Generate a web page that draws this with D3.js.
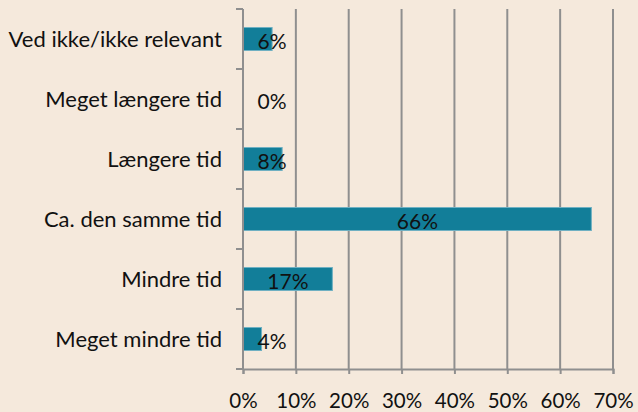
<!DOCTYPE html>
<html>
<head>
<meta charset="utf-8">
<script src="https://cdn.jsdelivr.net/npm/d3@7"></script>
<style>
  body { margin: 0; background: #f5e9dc; }
  svg { display: block; }
  text { font-family: Lato, "Open Sans", sans-serif; fill: #111; }
</style>
</head>
<body>
<div id="chart"></div>
<script>
// answers, top to bottom as drawn
const categories = ["Ved ikke/ikke relevant", "Meget længere tid", "Længere tid",
  "Ca. den samme tid", "Mindre tid", "Meget mindre tid"];
const values = [5.6, 0, 7.5, 66, 17, 3.6];
const labels = ["6%", "0%", "8%", "66%", "17%", "4%"];
const ticks = [0, 10, 20, 30, 40, 50, 60, 70];

const W = 638, H = 412;
const margin = {top: 9, right: 25, bottom: 43, left: 243};
const width = W - margin.left - margin.right,
      height = H - margin.top - margin.bottom;

let svg = d3.select("#chart").append("svg")
  .attr("width", W)
  .attr("height", H);

svg.append("rect").attr("width", W).attr("height", H).attr("fill", "#f5e9dc");

let g = svg.append("g")
  .attr("transform", "translate(" + margin.left + "," + margin.top + ")");

let x = d3.scaleLinear().domain([0, 70]).range([0, width]);
let y = d3.scaleBand().domain(categories).range([0, height])
  .paddingInner(0.6).paddingOuter(0.3);

// vertical gridlines
g.append("g")
  .selectAll("line")
  .data(ticks.slice(1))
  .enter().append("line")
  .attr("x1", d => x(d)).attr("x2", d => x(d))
  .attr("y1", 0).attr("y2", height)
  .attr("stroke", "#8f8f8f")
  .attr("stroke-width", 2);

// bars
g.append("g")
  .selectAll("rect")
  .data(values)
  .enter().append("rect")
  .attr("x", x(0) + 0.5)
  .attr("y", (d, i) => y(categories[i]) + 0.5)
  .attr("width", d => Math.max(0, x(d) - x(0) - 1))
  .attr("height", y.bandwidth() - 1)
  .attr("fill", "#127e99")
  .attr("stroke", d => d > 0 ? "#6fb0c2" : "none")
  .attr("stroke-width", 1);

// x axis
let xAxis = g.append("g")
  .attr("transform", "translate(0," + height + ")")
  .call(d3.axisBottom(x).tickValues(ticks).tickFormat(d => d + "%").tickSize(5).tickPadding(19));
xAxis.select(".domain").attr("stroke", "#8f8f8f").attr("stroke-width", 2);
xAxis.selectAll(".tick line").attr("stroke", "#8f8f8f").attr("stroke-width", 2);
xAxis.selectAll("text").attr("font-size", 20.5).attr("fill", "#111")
  .attr("font-family", "Lato, sans-serif");

// y axis: ticks sit between the categories
let yAxis = g.append("g");
yAxis.append("line")
  .attr("x1", 0).attr("x2", 0).attr("y1", 0).attr("y2", height)
  .attr("stroke", "#8f8f8f").attr("stroke-width", 2);
yAxis.selectAll(".ytick")
  .data(d3.range(categories.length + 1))
  .enter().append("line")
  .attr("class", "ytick")
  .attr("x1", -7).attr("x2", 0)
  .attr("y1", i => i * y.step()).attr("y2", i => i * y.step())
  .attr("stroke", "#8f8f8f").attr("stroke-width", 2);
yAxis.selectAll(".ylab")
  .data(categories)
  .enter().append("text")
  .attr("class", "ylab")
  .attr("x", -21)
  .attr("y", d => y(d) + y.bandwidth() / 2)
  .attr("dy", "0.36em")
  .attr("text-anchor", "end")
  .attr("font-size", 22)
  .text(d => d);

// value labels, centred in the bar, pushed right when the bar is short
g.append("g")
  .selectAll("text")
  .data(values)
  .enter().append("text")
  .attr("x", d => Math.max(x(d) / 2, 29))
  .attr("y", (d, i) => y(categories[i]) + y.bandwidth() / 2)
  .attr("dy", "0.48em")
  .attr("text-anchor", "middle")
  .attr("font-size", 21)
  .text((d, i) => labels[i]);
</script>
</body>
</html>
